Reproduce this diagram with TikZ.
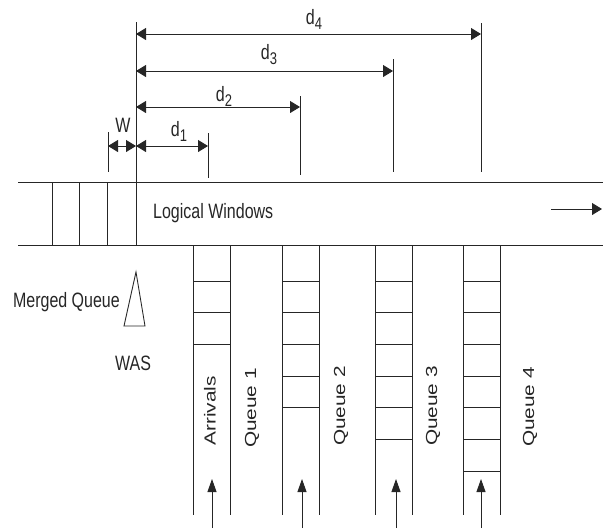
\documentclass[tikz,border=0pt]{standalone}
\usepackage{fontspec}
\setmainfont{Liberation Sans}
\usetikzlibrary{arrows.meta}
\newcommand{\ytext}[1]{\scalebox{1}[1.3]{#1}}
\newcommand{\rtext}[1]{\scalebox{1.3}[1]{#1}}
\newcommand{\dsub}[1]{d\raisebox{-0.45ex}{\fontsize{13}{14}\selectfont #1}}
\tikzset{
  ln/.style={line width=0.9pt,black!85},
  dimarrow/.style={ln,{Triangle[length=10pt,width=12pt]}-{Triangle[length=10pt,width=12pt]}},
  flowarrow/.style={ln,-{Triangle[length=10pt,width=12pt]}},
  inarrow/.style={ln,-{Triangle[length=13pt,width=9pt]}},
  lbl/.style={font=\fontsize{16}{18}\selectfont,inner sep=0pt,text=black!85}
}

\begin{document}
\begin{tikzpicture}[x=1pt,y=-1pt]
  \useasboundingbox (0,0) rectangle (611,528);
  \def\bandT{182}
  \def\bandB{245}
  \def\qw{37}
  \def\cell{31.7}

  % logical windows band
  \draw[ln] (18,\bandT) -- (603,\bandT);
  \draw[ln] (18,\bandB) -- (603,\bandB);
  \foreach \x in {52,79,107}
    \draw[ln] (\x,\bandT) -- (\x,\bandB);
  \coordinate (o) at (136,22);
  \draw[ln] (o) -- (136,\bandB);
  \node[lbl,anchor=west] (lw) at (153,213) {\ytext{Logical Windows}};
  \coordinate (flowa) at (551,209);
  \coordinate (flowb) at (602,209);
  \draw[flowarrow] (flowa) -- (flowb);

  % distances
  \foreach \i/\x/\ya/\yb/\y in {1/208/133/178/146,2/300/96/175/107,3/393/59/172/71,4/481/23/172/34}{
    \draw[ln] (\x,\ya) -- (\x,\yb);
    \coordinate (ds\i) at (136,\y);
    \coordinate (de\i) at (\x,\y);
    \draw[dimarrow] (ds\i) -- (de\i);
  }
  \node[lbl] (d1) at (179,131) {\ytext{\dsub{1}}};
  \node[lbl] (d2) at (224,96) {\ytext{\dsub{2}}};
  \node[lbl] (d3) at (269,55) {\ytext{\dsub{3}}};
  \node[lbl] (d4) at (314,19) {\ytext{\dsub{4}}};

  \draw[ln] (108,132) -- (108,172);
  \coordinate (wa) at (108,146);
  \draw[dimarrow] (wa) -- (ds1);
  \node[lbl] (w) at (123,125) {\ytext{W}};

  % merged queue
  \node[lbl,anchor=east] (mq) at (120,302) {\ytext{Merged Queue}};
  \draw[ln] (136,272) -- (124,326) -- (145,326) -- cycle;
  \node[lbl] (was) at (133,363) {\ytext{WAS}};

  % queues
  \foreach \x/\n/\a in {193/2/212,282/4/302,375/5/396,463/6/481}{
    \draw[ln] (\x,\bandB) -- (\x,515);
    \draw[ln] (\x+\qw,\bandB) -- (\x+\qw,515);
    \foreach \k in {0,...,\n}
      \draw[ln] (\x,281+\cell*\k) -- (\x+\qw,281+\cell*\k);
    \coordinate (src\n) at (\a,528);
    \coordinate (dst\n) at (\a,479);
    \draw[inarrow] (src\n) -- (dst\n);
  }
  \node[lbl,rotate=90] (arr) at (210,411) {\rtext{Arrivals}};
  \node[lbl,rotate=90] (q1) at (252,408) {\rtext{Queue 1}};
  \node[lbl,rotate=90] (q2) at (341,406) {\rtext{Queue 2}};
  \node[lbl,rotate=90] (q3) at (433,406) {\rtext{Queue 3}};
  \node[lbl,rotate=90] (q4) at (530,407) {\rtext{Queue 4}};
\end{tikzpicture}
\end{document}
